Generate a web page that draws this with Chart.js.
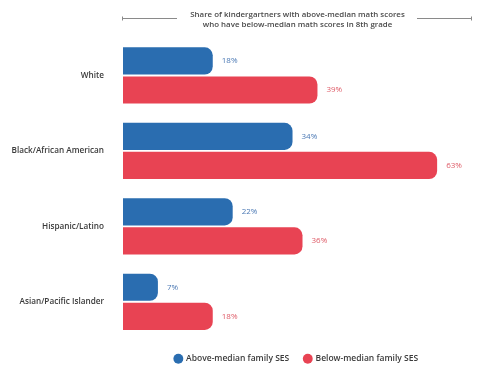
<!DOCTYPE html>
<html lang="en">
<head>
    <meta charset="UTF-8">
    <title>Kindergartners above-median math scores</title>
    <script src="https://cdn.jsdelivr.net/npm/chart.js"></script>
    <style>
        body { margin: 0; background: #ffffff; }
        #wrap { width: 500px; height: 374px; }
    </style>
</head>
<body>
    <div id="wrap"><canvas id="sesChart"></canvas></div>
    <script>
        const groups = ["White", "Black/African American", "Hispanic/Latino", "Asian/Pacific Islander"];
        const aboveSES = [18, 34, 22, 7];
        const belowSES = [39, 63, 36, 18];
        const seriesNames = ["Above-median family SES", "Below-median family SES"];
        const titleLines = ["Share of kindergartners with above-median math scores", "who have below-median math scores in 8th grade"];

        const blue = "#2a6db0";
        const red = "#e84353";
        const font = "'Open Sans', sans-serif";

        // lines on each side of the title
        const titleRules = {
            id: "titleRules",
            afterDraw(chart) {
                const t = chart.titleBlock;
                const ctx = chart.ctx;
                const y = Math.round(t.top + 13) + 0.5;
                ctx.save();
                ctx.strokeStyle = "#8a8a8a";
                ctx.lineWidth = 1;
                ctx.beginPath();
                ctx.moveTo(122, y); ctx.lineTo(177, y);
                ctx.moveTo(417, y); ctx.lineTo(472, y);
                ctx.moveTo(122.5, y - 2); ctx.lineTo(122.5, y + 2);
                ctx.moveTo(471.5, y - 2); ctx.lineTo(471.5, y + 2);
                ctx.stroke();
                ctx.restore();
            }
        };

        // percent labels at the end of each bar
        const valueLabels = {
            id: "valueLabels",
            afterDatasetsDraw(chart) {
                const ctx = chart.ctx;
                ctx.save();
                ctx.font = "8px " + font;
                ctx.textBaseline = "middle";
                ctx.textAlign = "left";
                chart.data.datasets.forEach((ds, i) => {
                    ctx.fillStyle = i === 0 ? "#4a78b4" : "#de5a66";
                    chart.getDatasetMeta(i).data.forEach((bar, j) => {
                        ctx.fillText(ds.data[j] + "%", bar.x + 9, bar.y);
                    });
                });
                ctx.restore();
            }
        };

        // title and legend sit a little left of the plot centre in the original
        const blockShift = {
            id: "blockShift",
            afterLayout(chart) {
                chart.titleBlock.left -= 5;
                chart.titleBlock.right -= 5;
                chart.legend.left -= 6;
                chart.legend.right -= 6;
            }
        };

        new Chart(document.getElementById("sesChart"), {
            type: "bar",
            data: {
                labels: groups,
                datasets: [
                    { label: seriesNames[0], data: aboveSES, backgroundColor: blue },
                    { label: seriesNames[1], data: belowSES, backgroundColor: red }
                ]
            },
            options: {
                indexAxis: "y",
                responsive: true,
                maintainAspectRatio: false,
                animation: false,
                layout: { padding: { left: 0, right: 18, top: 5, bottom: 1 } },
                datasets: {
                    bar: {
                        categoryPercentage: 0.77,
                        barPercentage: 0.935,
                        borderRadius: 8,
                        borderSkipped: "start"
                    }
                },
                scales: {
                    x: { display: false, min: 0, max: 72 },
                    y: {
                        grid: { display: false },
                        border: { display: false },
                        ticks: { padding: 11, color: "#3a3a3a", font: { family: font, size: 8.2, weight: "600" } },
                        afterFit(scale) { scale.width = 123; }
                    }
                },
                plugins: {
                    title: {
                        display: true,
                        fullSize: false,
                        text: titleLines,
                        color: "#4a4a4a",
                        font: { family: font, size: 7.9, weight: "600", lineHeight: 1.25 },
                        padding: { top: 5, bottom: 8 }
                    },
                    legend: {
                        position: "bottom",
                        fullSize: false,
                        labels: {
                            usePointStyle: true,
                            pointStyle: "circle",
                            boxWidth: 7,
                            boxHeight: 7,
                            padding: 15,
                            color: "#3a3a3a",
                            font: { family: font, size: 8.5, weight: "600" }
                        }
                    },
                    tooltip: { enabled: false }
                }
            },
            plugins: [titleRules, valueLabels, blockShift]
        });
    </script>
</body>
</html>
